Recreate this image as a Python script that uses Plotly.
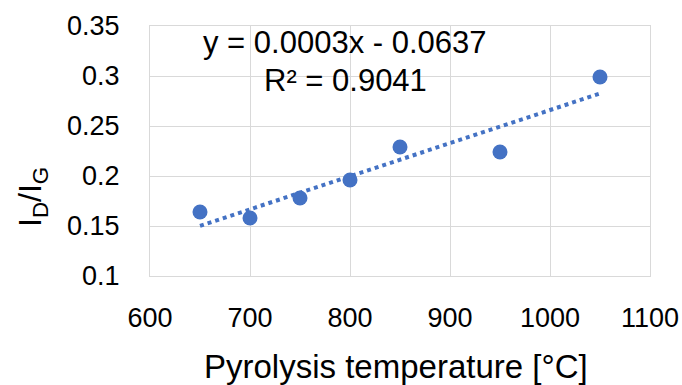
import numpy as np
import plotly.graph_objects as go

temps = [650, 700, 750, 800, 850, 950, 1050]
ratio = [0.164, 0.158, 0.178, 0.196, 0.229, 0.224, 0.299]
x_ticks = [600, 700, 800, 900, 1000, 1100]
y_ticks = [0.1, 0.15, 0.2, 0.25, 0.3, 0.35]
eq_text = "y = 0.0003x - 0.0637"
r2_text = "R² = 0.9041"
x_title = "Pyrolysis temperature [°C]"
y_title = "I<sub>D</sub>/I<sub>G</sub>"

slope, intercept = np.polyfit(temps, ratio, 1)
fit_x = [min(temps), max(temps)]
fit_y = [slope * v + intercept for v in fit_x]

BLUE = "#4472C4"
GRID = "#D9D9D9"
FONT = "Liberation Sans"

fig = go.Figure()
fig.add_trace(go.Scatter(x=fit_x, y=fit_y, mode="lines",
                         line=dict(color=BLUE, width=4, dash="4px,4px"),
                         showlegend=False, hoverinfo="skip"))
fig.add_trace(go.Scatter(x=temps, y=ratio, mode="markers",
                         marker=dict(color=BLUE, size=15),
                         showlegend=False))

fig.add_annotation(x=795, y=0.334, xref="x", yref="y", text=eq_text,
                   showarrow=False, font=dict(family=FONT, size=31, color="#000"))
fig.add_annotation(x=795, y=0.2955, xref="x", yref="y", text=r2_text,
                   showarrow=False, font=dict(family=FONT, size=31, color="#000"))

fig.add_annotation(x=0.492, y=-0.364, xref="paper", yref="paper", text=x_title,
                   showarrow=False, xanchor="center", yanchor="middle",
                   font=dict(family=FONT, size=33, color="#000"))
fig.add_annotation(x=-0.234, y=0.316, xref="paper", yref="paper", text=y_title,
                   showarrow=False, textangle=-90, xanchor="center", yanchor="middle",
                   font=dict(family=FONT, size=32, color="#000"))

fig.update_layout(
    width=682, height=385,
    margin=dict(l=150, r=32, t=26, b=109),
    paper_bgcolor="white", plot_bgcolor="white",
    font=dict(family=FONT, size=27, color="#000"),
    xaxis=dict(range=[600, 1100], tickvals=x_ticks, showgrid=True, gridcolor=GRID,
               gridwidth=1, showline=True, linecolor=GRID, linewidth=1, mirror=True,
               zeroline=False, ticks="outside", ticklen=18, tickcolor="rgba(0,0,0,0)",
               automargin=False),
    yaxis=dict(range=[0.1, 0.35], tickvals=y_ticks, showgrid=True, gridcolor=GRID,
               gridwidth=1, showline=True, linecolor=GRID, linewidth=1, mirror=True,
               zeroline=False, ticks="outside", ticklen=24, tickcolor="rgba(0,0,0,0)",
               automargin=False),
)

fig.write_html("out.html")
